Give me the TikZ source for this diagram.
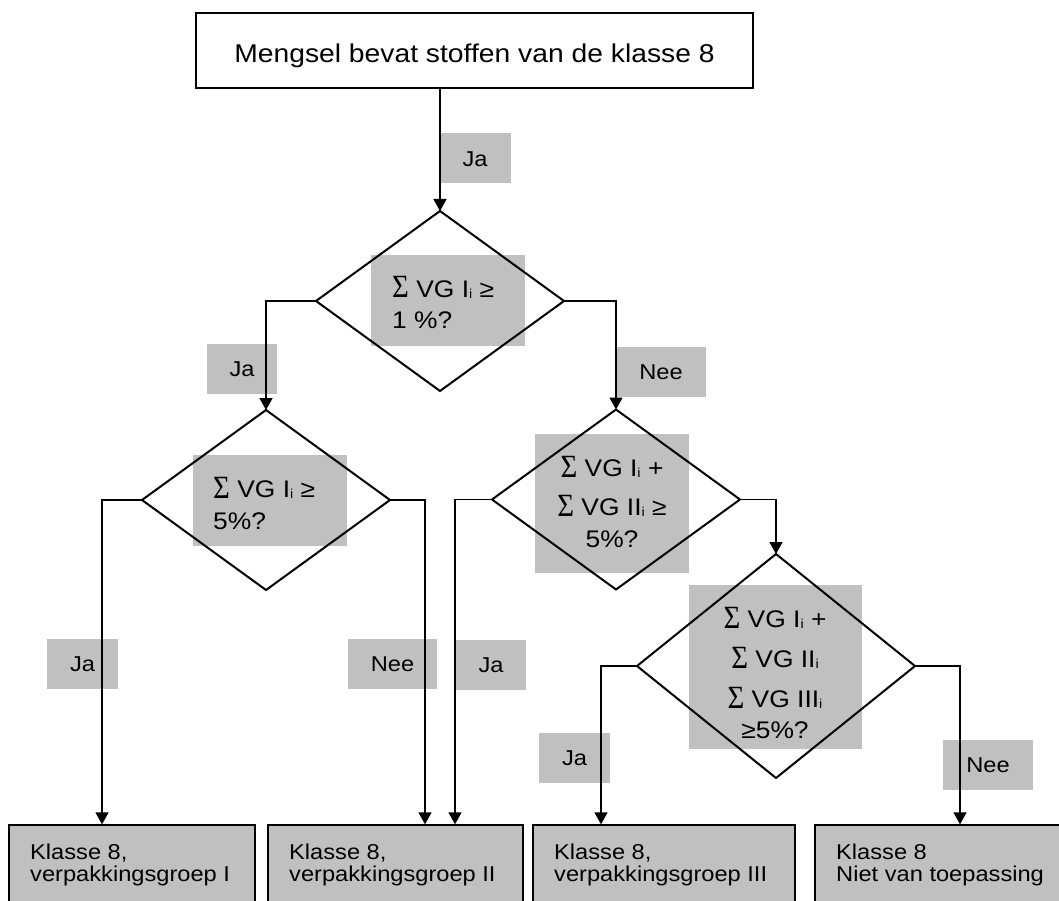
\documentclass[tikz,border=0pt]{standalone}
\usepackage{fontspec}
\usepackage{graphicx}
\setmainfont{Liberation Sans}[FakeStretch=1.1]
\newfontfamily\sigfont{Liberation Serif}
\usetikzlibrary{shapes.geometric,arrows.meta}
\definecolor{gbox}{HTML}{C0C0C0}
\newcommand{\sg}{{\sigfont\raisebox{-1pt}{\scalebox{1.2}[1.35]{Σ}}}}
\newcommand{\sbi}{\raisebox{-1.2pt}{\fontsize{13}{13}\selectfont i}}
\begin{document}
\begin{tikzpicture}[x=1pt,y=-1pt,
  conn/.style={line width=1.6pt, -{Triangle[width=13pt,length=12pt]}},
  lbl/.style={fill=gbox, inner sep=0pt, minimum height=50pt, text height=15.4pt, text depth=0pt, font=\fontsize{21.5}{23}\selectfont},
  gbx/.style={fill=gbox, inner sep=0pt},
  ddia/.style={diamond, draw, line width=2pt, inner sep=0pt, outer sep=0pt},
  res/.style={rectangle, draw, fill=gbox, line width=1.4pt, inner sep=0pt, minimum height=90pt},
  rt/.style={inner sep=0pt, anchor=base west, font=\fontsize{21.5}{23}\selectfont},
  dt/.style={inner sep=0pt, anchor=base, font=\fontsize{24}{26}\selectfont},
  dtl/.style={dt, anchor=base west}]
\useasboundingbox (0,0) rectangle (1059,901);
\clip (0,0) rectangle (1059,901);

% top box
\node[draw, line width=2.3pt, minimum width=557pt, minimum height=75pt, inner sep=0pt,
      text height=25pt, text depth=0pt, font=\fontsize{25.7}{28}\selectfont]
      (top) at (474.5,50.5) {Mengsel bevat stoffen van de klasse 8};

% labels
\node[lbl, minimum width=72pt] (l0) at (475,158.5) {Ja};
\node[lbl, minimum width=70pt] (l1) at (242,369) {Ja};
\node[lbl, minimum width=90pt] (l2) at (661,372) {Nee};
\node[lbl, minimum width=71pt] (l3) at (82.5,663.5) {Ja};
\node[lbl, minimum width=89pt] (l4) at (392.5,663.5) {Nee};
\node[lbl, minimum width=70pt] (l5) at (491,664.5) {Ja};
\node[lbl, minimum width=71pt] (l6) at (574.5,757.5) {Ja};
\node[lbl, minimum width=90pt] (l7) at (988,764.5) {Nee};

% gray boxes inside diamonds
\node[gbx, minimum width=154pt, minimum height=91pt] (g1) at (448,300.5) {};
\node[gbx, minimum width=154pt, minimum height=91pt] (g2) at (270,500.5) {};
\node[gbx, minimum width=154pt, minimum height=139pt] (g3) at (612,503.5) {};
\node[gbx, minimum width=173pt, minimum height=164pt] (g4) at (775.5,667) {};

% diamonds
\node[ddia, minimum width=248pt, minimum height=180pt] (d1) at (440,301) {};
\node[ddia, minimum width=248pt, minimum height=180pt] (d2) at (266,500) {};
\node[ddia, minimum width=248pt, minimum height=180pt] (d3) at (616,499.5) {};
\node[ddia, minimum width=278pt, minimum height=224pt] (d4) at (776,666) {};

% diamond texts
\node[dtl] (t1a) at (392,297) {\sg{} VG I\sbi{} ≥};
\node[dtl] (t1b) at (392,328) {1 \%?};
\node[dtl] (t2a) at (213,497) {\sg{} VG I\sbi{} ≥};
\node[dtl] (t2b) at (213,529) {5\%?};
\node[dt] (t3a) at (612,476) {\sg{} VG I\sbi{} +};
\node[dt] (t3b) at (612,515) {\sg{} VG II\sbi{} ≥};
\node[dt] (t3c) at (612,547) {5\%?};
\node[dt] (t4a) at (775,627) {\sg{} VG I\sbi{} +};
\node[dt] (t4b) at (775,667) {\sg{} VG II\sbi{}};
\node[dt] (t4c) at (775,707) {\sg{} VG III\sbi{}};
\node[dt] (t4d) at (775,738) {≥5\%?};

% result boxes
\node[res, minimum width=246pt] (b1) at (132,870) {};
\node[res, minimum width=255pt] (b2) at (395.5,870) {};
\node[res, minimum width=262pt] (b3) at (664,870) {};
\node[res, minimum width=255pt] (b4) at (942.5,870) {};
\node[rt] (r1a) at (30,859) {Klasse 8,};
\node[rt] (r1b) at (30,881) {verpakkingsgroep I};
\node[rt] (r2a) at (289,859) {Klasse 8,};
\node[rt] (r2b) at (289,881) {verpakkingsgroep II};
\node[rt] (r3a) at (554,859) {Klasse 8,};
\node[rt] (r3b) at (554,881) {verpakkingsgroep III};
\node[rt] (r4a) at (836,859) {Klasse 8};
\node[rt] (r4b) at (836,881) {Niet van toepassing};

% connectors
\draw[conn] (top.south -| d1.north) -- (d1.north);
\draw[conn] (d1.west) -| (d2.north);
\draw[conn] (d1.east) -| (d3.north);
\draw[conn] (d2.west) -| ([xshift=-30pt]b1.north);
\draw[conn] (d2.east) -| ([xshift=29.5pt]b2.north);
\draw[conn] (d3.west) -| ([xshift=59.5pt]b2.north);
\draw[conn] (d3.east) -| (d4.north);
\draw[conn] (d4.west) -| ([xshift=-63pt]b3.north);
\draw[conn] (d4.east) -| ([xshift=17.5pt]b4.north);
\end{tikzpicture}
\end{document}
